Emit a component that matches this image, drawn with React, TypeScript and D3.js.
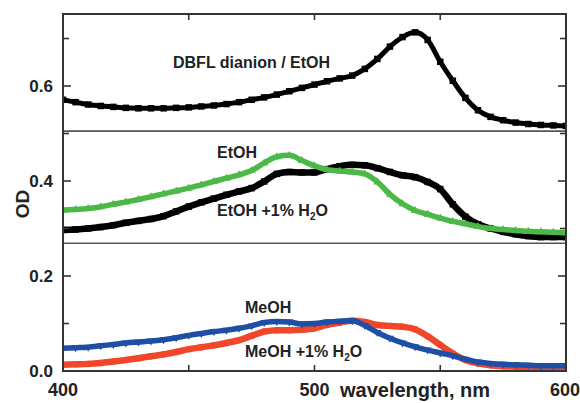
import React from "react";
import * as d3 from "d3";

// ---------- DATA ----------
const wavelengths: number[] = d3.range(400, 601, 5);

const dbflEtOH: number[] = [
  0.571, 0.566, 0.561, 0.558, 0.556, 0.554, 0.553, 0.553, 0.553, 0.554,
  0.555, 0.557, 0.559, 0.562, 0.566, 0.571, 0.576, 0.582, 0.589, 0.596,
  0.603, 0.61, 0.616, 0.622, 0.636, 0.657, 0.683, 0.703, 0.713, 0.697,
  0.651, 0.611, 0.575, 0.549, 0.535, 0.528, 0.523, 0.52, 0.518, 0.517, 0.516,
];

const etOH: number[] = [
  0.339, 0.34, 0.342, 0.346, 0.351, 0.356, 0.361, 0.367, 0.373, 0.379,
  0.385, 0.392, 0.399, 0.406, 0.413, 0.422, 0.438, 0.451, 0.454, 0.443,
  0.432, 0.424, 0.421, 0.419, 0.415, 0.398, 0.372, 0.352, 0.338, 0.33,
  0.322, 0.315, 0.31, 0.304, 0.3, 0.298, 0.296, 0.294, 0.293, 0.292, 0.291,
];

const etOHWater: number[] = [
  0.297, 0.298, 0.3, 0.303, 0.307, 0.312, 0.316, 0.32, 0.326, 0.336,
  0.346, 0.355, 0.363, 0.371, 0.378, 0.385, 0.399, 0.415, 0.419, 0.418,
  0.418, 0.425, 0.431, 0.434, 0.433, 0.427, 0.419, 0.412, 0.408, 0.398,
  0.383, 0.351, 0.325, 0.309, 0.3, 0.293, 0.288, 0.284, 0.282, 0.282, 0.282,
];

const meOH: number[] = [
  0.048, 0.049, 0.05, 0.053, 0.056, 0.059, 0.061, 0.063, 0.066, 0.07,
  0.075, 0.079, 0.083, 0.086, 0.09, 0.095, 0.102, 0.104, 0.103, 0.099,
  0.1, 0.103, 0.105, 0.106, 0.096, 0.081, 0.069, 0.059, 0.051, 0.044,
  0.038, 0.032, 0.025, 0.019, 0.016, 0.014, 0.013, 0.012, 0.011, 0.011, 0.011,
];

const meOHWater: number[] = [
  0.013, 0.014, 0.015, 0.017, 0.02, 0.023, 0.027, 0.031, 0.035, 0.04,
  0.046, 0.05, 0.054, 0.059, 0.065, 0.074, 0.083, 0.086, 0.086, 0.087,
  0.09, 0.097, 0.102, 0.106, 0.103, 0.097, 0.095, 0.093, 0.088, 0.073,
  0.055, 0.037, 0.023, 0.016, 0.012, 0.01, 0.009, 0.008, 0.008, 0.008, 0.008,
];

const xTickLabels: number[] = [400, 500, 600];
const xMinorTicks: number[] = [450, 500, 550];
const yTickLabels: number[] = [0.0, 0.2, 0.4, 0.6];
const yTicksAll: number[] = [0.1, 0.2, 0.3, 0.4, 0.5, 0.6, 0.7];
const panelBreaks: number[] = [0.505, 0.269];

// ---------- LAYOUT ----------
const W = 580;
const H = 403;
const L = 63, R = 566, T = 14, B = 371;
const FONT = "'Liberation Sans', Arial, Helvetica, sans-serif";

const x = d3.scaleLinear().domain([400, 600]).range([L, R]);
const y = d3.scaleLinear().domain([0, 0.7516]).range([B, T]);

type Series = { values: number[]; color: string; marker: "square" | "up" | "down" | "circle"; width: number; size: number };

const series: Series[] = [
  { values: dbflEtOH, color: "#000000", marker: "square", width: 5, size: 6.5 },
  { values: etOHWater, color: "#000000", marker: "square", width: 6.5, size: 6.5 },
  { values: etOH, color: "#4cb847", marker: "up", width: 5.5, size: 8 },
  { values: meOHWater, color: "#f0472b", marker: "circle", width: 6.5, size: 6.5 },
  { values: meOH, color: "#1f4ea6", marker: "down", width: 5.5, size: 8 },
];

const lineGen = (vals: number[]) =>
  d3
    .line<number>()
    .x((_, i) => x(wavelengths[i]))
    .y((d) => y(d))
    .curve(d3.curveMonotoneX)(vals) as string;

function Marker({ cx, cy, s, kind, color }: { cx: number; cy: number; s: number; kind: string; color: string }) {
  if (kind === "square") return <rect x={cx - s / 2} y={cy - s / 2} width={s} height={s} fill={color} />;
  if (kind === "circle") return <circle cx={cx} cy={cy} r={s / 2} fill={color} />;
  const h = s * 0.87;
  const pts =
    kind === "up"
      ? `${cx},${cy - h / 2 - 1} ${cx - s / 2},${cy + h / 2 - 1} ${cx + s / 2},${cy + h / 2 - 1}`
      : `${cx},${cy + h / 2 + 1} ${cx - s / 2},${cy - h / 2 + 1} ${cx + s / 2},${cy - h / 2 + 1}`;
  return <polygon points={pts} fill={color} />;
}

function H2OLabel({ px, py, prefix }: { px: number; py: number; prefix: string }) {
  return (
    <text x={px} y={py} fontFamily={FONT} fontWeight="bold" fontSize={16} fill="#222">
      {prefix} +1% H
      <tspan fontSize={10} dy={4}>2</tspan>
      <tspan dy={-4}>O</tspan>
    </text>
  );
}

export default function App() {
  return (
    <svg width={W} height={H} style={{ position: "absolute", left: 0, top: 0, background: "#fff" }}>
      <rect x={0} y={0} width={W} height={H} fill="#fff" />
      <defs>
        <clipPath id="plotclip">
          <rect x={L} y={T} width={R - L} height={B - T} />
        </clipPath>
      </defs>

      {/* panel dividers */}
      {panelBreaks.map((v, i) => (
        <line key={i} x1={L} x2={R} y1={y(v)} y2={y(v)} stroke="#555" strokeWidth={1.6} />
      ))}

      {/* series */}
      <g clipPath="url(#plotclip)">
        {series.map((s, si) => (
          <g key={si}>
            <path d={lineGen(s.values)} fill="none" stroke={s.color} strokeWidth={s.width} strokeLinejoin="round" />
            {s.values.map((v, i) => (
              <Marker key={i} cx={x(wavelengths[i])} cy={y(v)} s={s.size} kind={s.marker} color={s.color} />
            ))}
          </g>
        ))}
      </g>

      {/* ticks */}
      {yTicksAll.map((v) => {
        const major = yTickLabels.some((t) => Math.abs(t - v) < 1e-6);
        const len = major ? 8 : 6;
        return (
          <g key={v}>
            <line x1={L} x2={L + len} y1={y(v)} y2={y(v)} stroke="#333" strokeWidth={1.6} />
            <line x1={R} x2={R - len} y1={y(v)} y2={y(v)} stroke="#333" strokeWidth={1.6} />
          </g>
        );
      })}
      {xMinorTicks.map((v) => (
        <g key={v}>
          <line x1={x(v)} x2={x(v)} y1={B} y2={B - 6} stroke="#333" strokeWidth={1.6} />
          <line x1={x(v)} x2={x(v)} y1={T} y2={T + 6} stroke="#333" strokeWidth={1.6} />
        </g>
      ))}

      {/* frame */}
      <rect x={L} y={T} width={R - L} height={B - T} fill="none" stroke="#333" strokeWidth={2} />

      {/* tick labels */}
      {yTickLabels.map((v) => (
        <text key={v} x={L - 10} y={y(v) + 6} textAnchor="end" fontFamily={FONT} fontWeight="bold" fontSize={17} fill="#222">
          {v.toFixed(1)}
        </text>
      ))}
      {xTickLabels.map((v) => (
        <text key={v} x={x(v) - (v === 600 ? 1 : 0)} y={396} textAnchor="middle" fontFamily={FONT} fontWeight="bold" fontSize={18} fill="#222">
          {v}
        </text>
      ))}

      {/* axis titles */}
      <text x={415} y={397} textAnchor="middle" fontFamily={FONT} fontWeight="bold" fontSize={20} fill="#222">
        wavelength, nm
      </text>
      <text
        transform={`translate(29, 204) rotate(-90)`}
        textAnchor="middle"
        fontFamily={FONT}
        fontWeight="bold"
        fontSize={19}
        fill="#222"
      >
        OD
      </text>

      {/* annotations */}
      <text x={173} y={68} fontFamily={FONT} fontWeight="bold" fontSize={16} fill="#222">
        DBFL dianion / EtOH
      </text>
      <text x={217} y={158} fontFamily={FONT} fontWeight="bold" fontSize={16} fill="#222">
        EtOH
      </text>
      <H2OLabel px={217} py={216} prefix="EtOH" />
      <text x={245} y={313} fontFamily={FONT} fontWeight="bold" fontSize={16} fill="#222">
        MeOH
      </text>
      <H2OLabel px={245} py={357} prefix="MeOH" />
    </svg>
  );
}
